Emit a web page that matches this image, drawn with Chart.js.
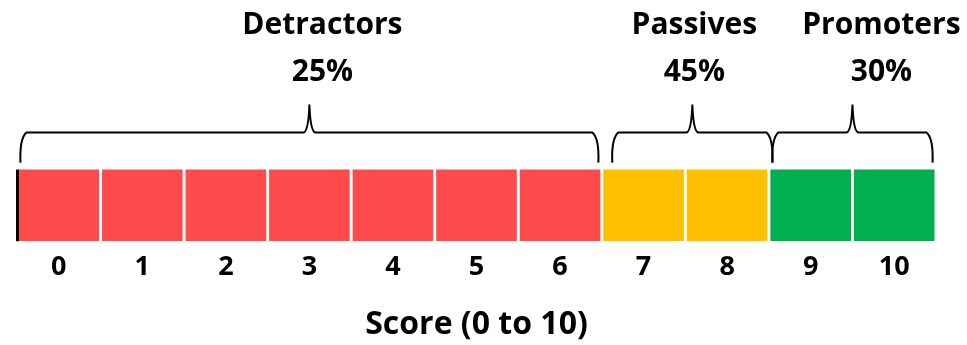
<!DOCTYPE html>
<html>
<head>
<meta charset="utf-8">
<script src="https://cdn.jsdelivr.net/npm/chart.js@4.4.1/dist/chart.umd.min.js"></script>
<style>
  html, body { margin: 0; padding: 0; background: #fff; }
  #wrap { width: 967px; height: 345px; }
</style>
</head>
<body>
<div id="wrap"><canvas id="nps" width="967" height="345"></canvas></div>
<script>
// scores along the scale, one cell each
const scores = ['0', '1', '2', '3', '4', '5', '6', '7', '8', '9', '10'];
const cellValues = [1, 1, 1, 1, 1, 1, 1, 1, 1, 1, 1];

// NPS groups: name, share, first and last score index
const groupNames = ['Detractors', 'Passives', 'Promoters'];
const groupShares = ['25%', '45%', '30%'];
const groupFirst = [0, 7, 9];
const groupLast = [6, 8, 10];
const groupColors = ['#FF4B4B', '#FFC000', '#00B050'];

const FONT = '"Open Sans", Lato, sans-serif';

// colour each cell by the group it falls in
const cellColors = scores.map((s, i) => {
    const g = groupFirst.findIndex((f, k) => i >= f && i <= groupLast[k]);
    return groupColors[g];
});

// draws a curly brace over a run of cells, with group name and share above,
// plus the black stop line at the left end of the scale
const bracePlugin = {
    id: 'npsBraces',
    afterDatasetsDraw(chart) {
        const ctx = chart.ctx;
        const bars = chart.getDatasetMeta(0).data;
        const top = bars[0].y, bottom = bars[0].base;
        const yEnd = top - 7, yMid = top - 37, yTip = top - 65;
        // the original braces/texts are nudged a little off the cell edges
        const braceShift = [0, 7, 0];
        const labelShift = [13, 2, 29];

        ctx.save();
        ctx.fillStyle = '#000';
        ctx.fillRect(chart.chartArea.left - 1, top, 3, bottom - top);

        ctx.strokeStyle = '#000';
        ctx.lineWidth = 2;
        ctx.lineJoin = 'round';
        groupNames.forEach((name, g) => {
            const a = bars[groupFirst[g]], b = bars[groupLast[g]];
            const x1 = a.x - a.width / 2 + 2 + braceShift[g];
            const x2 = b.x + b.width / 2 - 2 + braceShift[g];
            const xm = (x1 + x2) / 2;

            ctx.beginPath();
            ctx.moveTo(x1, yEnd);
            ctx.quadraticCurveTo(x1 - 1, yMid + 6, x1 + 6, yMid);
            ctx.lineTo(xm - 6, yMid);
            ctx.quadraticCurveTo(xm - 1, yMid - 1, xm, yTip);
            ctx.moveTo(xm, yTip);
            ctx.quadraticCurveTo(xm + 1, yMid - 1, xm + 6, yMid);
            ctx.lineTo(x2 - 6, yMid);
            ctx.quadraticCurveTo(x2 + 1, yMid + 6, x2, yEnd);
            ctx.stroke();

            ctx.textAlign = 'center';
            ctx.textBaseline = 'middle';
            ctx.font = 'bold 30px ' + FONT;
            ctx.fillText(name, xm + labelShift[g], 25);
            ctx.fillText(groupShares[g], xm + labelShift[g], 72);
        });
        ctx.restore();
    }
};

new Chart(document.getElementById('nps'), {
    type: 'bar',
    data: {
        labels: scores,
        datasets: [{
            data: cellValues,
            backgroundColor: cellColors,
            borderWidth: 0,
            barPercentage: 1,
            categoryPercentage: 0.965
        }]
    },
    options: {
        responsive: false,
        animation: false,
        layout: { padding: { left: 17, right: 31, top: 98, bottom: 1 } },
        plugins: {
            legend: { display: false },
            tooltip: { enabled: false }
        },
        scales: {
            x: {
                grid: { display: false, drawTicks: false },
                border: { display: false },
                ticks: {
                    color: '#000',
                    padding: 10,
                    font: { family: FONT, size: 27, weight: 'bold' }
                },
                title: {
                    display: true,
                    text: 'Score (0 to 10)',
                    color: '#000',
                    padding: { top: 12, bottom: 0 },
                    font: { family: FONT, size: 32, weight: 'bold' }
                }
            },
            y: {
                display: false,
                min: 0,
                max: 2 // cells fill the lower half; the braces sit above them
            }
        }
    },
    plugins: [bracePlugin]
});
</script>
</body>
</html>
